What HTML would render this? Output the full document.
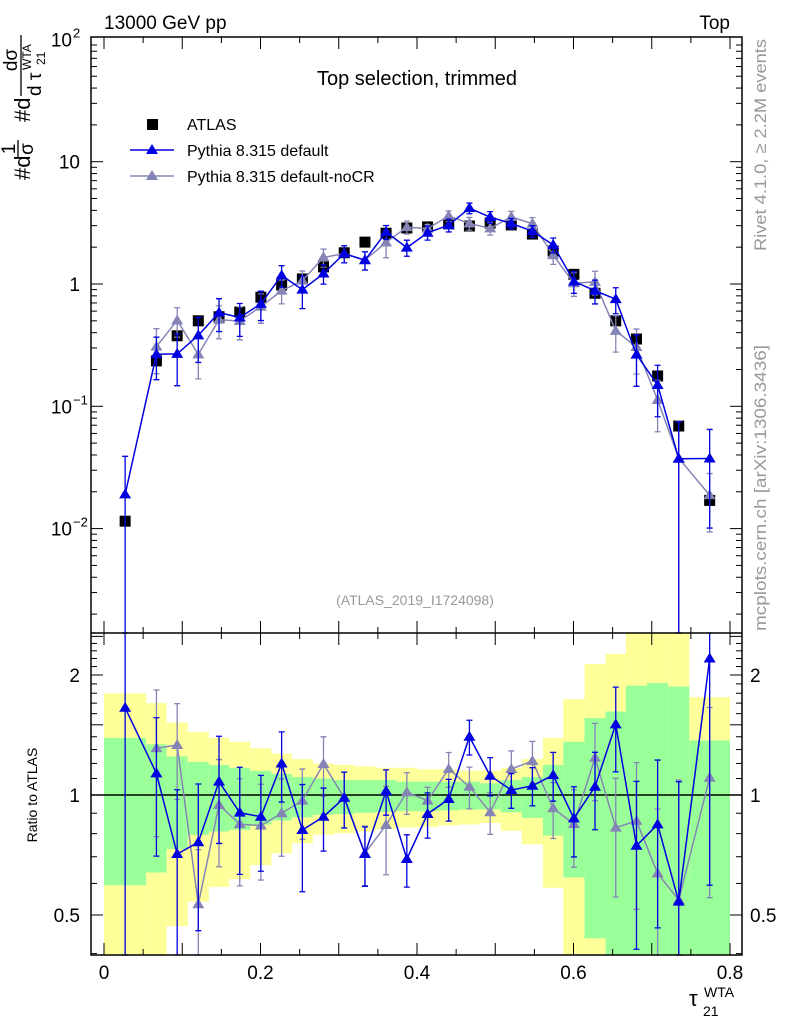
<!DOCTYPE html>
<html><head><meta charset="utf-8"><style>
html,body{margin:0;padding:0;background:#fff;}
svg{display:block;font-family:"Liberation Sans",sans-serif;}
</style></head><body>
<svg id="chart" width="786" height="1024" viewBox="0 0 786 1024" xmlns="http://www.w3.org/2000/svg">
<g id="bands"></g>
<g id="marks"></g>
<g id="axes"></g>
<text x="104" y="29" font-size="19">13000 GeV pp</text>
<text x="730" y="29" font-size="19" text-anchor="end">Top</text>
<text x="417" y="85" font-size="20" text-anchor="middle">Top selection, trimmed</text>
<text x="415" y="605" font-size="14" fill="#999" text-anchor="middle">(ATLAS_2019_I1724098)</text>
<g>
 <rect x="147" y="119" width="11" height="11" fill="#000"/>
 <text x="187" y="130" font-size="16">ATLAS</text>
 <line x1="130" y1="150" x2="174" y2="150" stroke="#0000e0" stroke-width="1.5"/>
 <polygon points="152,144 158,154 146,154" fill="#0000e0"/>
 <text x="187" y="156" font-size="16">Pythia 8.315 default</text>
 <line x1="130" y1="176" x2="174" y2="176" stroke="#8585b5" stroke-width="1.5"/>
 <polygon points="152,170 158,180 146,180" fill="#8585b5"/>
 <text x="187" y="182" font-size="16">Pythia 8.315 default-noCR</text>
</g>
<text transform="translate(766,251) rotate(-90)" font-size="17" fill="#999" textLength="212" lengthAdjust="spacingAndGlyphs">Rivet 4.1.0, ≥ 2.2M events</text>
<text transform="translate(766,631) rotate(-90)" font-size="17" fill="#999" textLength="286" lengthAdjust="spacingAndGlyphs">mcplots.cern.ch [arXiv:1306.3436]</text>
<g transform="rotate(-90)">
 <text x="-180" y="30" font-size="22">#d</text>
 <text x="-149" y="15" font-size="19" text-anchor="middle">1</text>
 <line x1="-158" y1="18" x2="-140" y2="18" stroke="#000" stroke-width="1.3"/>
 <text x="-149" y="33" font-size="19" text-anchor="middle">σ</text>
 <text x="-122" y="30" font-size="22">#d</text>
 <text x="-60" y="17" font-size="19" text-anchor="middle">dσ</text>
 <line x1="-96" y1="21" x2="-35" y2="21" stroke="#000" stroke-width="1.3"/>
 <text x="-96" y="41" font-size="19">d τ</text>
 <text x="-65" y="45" font-size="12">21</text>
 <text x="-70" y="31" font-size="12">WTA</text>
</g>
<text transform="translate(37,795) rotate(-90)" font-size="14" text-anchor="middle">Ratio to ATLAS</text>
<g>
 <text x="689" y="1006" font-size="22">τ</text>
 <text x="703" y="1016" font-size="14">21</text>
 <text x="704" y="997" font-size="14">WTA</text>
</g>
</svg>
<script>
const edges=[0,0.054,0.080,0.107,0.134,0.160,0.187,0.214,0.240,0.267,0.294,0.320,0.347,0.374,0.400,0.427,0.454,0.480,0.507,0.534,0.561,0.587,0.614,0.641,0.667,0.694,0.721,0.748,0.800];
const atlas=[0.0115,0.235,0.377,0.50,0.54,0.59,0.78,0.98,1.1,1.38,1.8,2.2,2.6,2.87,2.93,3.1,2.98,3.15,3.04,2.56,1.86,1.2,0.84,0.50,0.355,0.177,0.069,0.017];
const ratioDefault=[1.655,1.133,0.711,0.761,1.08,0.903,0.882,1.20,0.817,0.882,0.984,0.711,1.023,0.691,0.896,0.977,1.40,1.118,1.029,1.055,1.122,0.874,1.049,1.504,0.746,0.844,0.540,2.20];
const errDefault=[1.05,0.38,0.45,0.4,0.3,0.3,0.27,0.2,0.3,0.18,0.16,0.17,0.13,0.15,0.13,0.12,0.1,0.11,0.1,0.11,0.14,0.2,0.22,0.24,0.45,0.45,1.0,0.73];
const ratioNoCR=[null,1.31,1.335,0.532,0.944,0.845,0.838,0.900,0.968,1.196,0.984,0.714,0.841,1.016,0.968,1.162,1.049,0.905,1.162,1.217,0.926,0.845,1.24,0.828,0.861,0.636,0.545,1.105];
const errNoCR=[0,0.4,0.27,0.37,0.3,0.3,0.27,0.22,0.2,0.17,0.16,0.17,0.25,0.12,0.08,0.1,0.12,0.12,0.11,0.12,0.16,0.22,0.22,0.33,0.4,0.45,1.0,0.5];
const yelHi=[1.80,1.70,1.52,1.44,1.39,1.36,1.31,1.27,1.23,1.20,1.19,1.18,1.17,1.17,1.16,1.16,1.15,1.15,1.17,1.23,1.39,1.74,2.13,2.26,2.6,2.6,2.6,1.76];
const yelLo=[0.3,0.3,0.469,0.540,0.588,0.615,0.667,0.714,0.757,0.794,0.802,0.810,0.821,0.829,0.831,0.839,0.843,0.851,0.813,0.752,0.585,0.3,0.3,0.3,0.3,0.3,0.3,0.609];
const grnHi=[1.39,1.34,1.25,1.21,1.19,1.17,1.15,1.13,1.11,1.10,1.09,1.09,1.09,1.08,1.08,1.08,1.08,1.07,1.09,1.11,1.19,1.36,1.56,1.62,1.88,1.91,1.87,1.37];
const grnLo=[0.594,0.639,0.732,0.794,0.810,0.818,0.843,0.863,0.879,0.892,0.896,0.902,0.907,0.911,0.911,0.915,0.919,0.920,0.905,0.876,0.791,0.621,0.437,0.3,0.3,0.3,0.3,0.3];
const mainTicks=[100,10,1,0.1,0.01];
const mainTickLabels=["10","10","1","10","10"];
const mainTickExp=["2","","","−1","−2"];
const ratioTicks=[2,1,0.5];
const ratioTickLabels=["2","1","0.5"];
const xTicks=[0,0.2,0.4,0.6,0.8];
const xTickLabels=["0","0.2","0.4","0.6","0.8"];

const NS="http://www.w3.org/2000/svg";
const L=91,R=742,T=37,M=633,B=955;
const X=v=>104+v*782.5;
const YM=v=>284-122.3*Math.log10(v);
const YR=r=>795-398.6*Math.log10(r);
const cl=(y,a,b)=>Math.max(a,Math.min(b,y));
function mk(par,tag,at){const e=document.createElementNS(NS,tag);for(const k in at)e.setAttribute(k,at[k]);par.appendChild(e);return e;}
const bands=document.getElementById('bands'),marks=document.getElementById('marks'),axes=document.getElementById('axes');
const n=atlas.length;
const ctr=i=>(edges[i]+edges[i+1])/2;

for(let i=0;i<n;i++){
 const x1=X(edges[i]),x2=X(edges[i+1]);
 const yt=cl(YR(yelHi[i]),M,B),yb=cl(YR(yelLo[i]),M,B);
 const r1=mk(bands,'rect',{x:x1,y:yt,width:x2-x1,height:yb-yt,fill:'#ffff99'});
 
 
 const gt=cl(YR(grnHi[i]),M,B),gb=cl(YR(grnLo[i]),M,B);
 const r2=mk(bands,'rect',{x:x1,y:gt,width:x2-x1,height:gb-gt,fill:'#99ff99'});
 
 
}
mk(bands,'line',{x1:L,y1:YR(1),x2:R,y2:YR(1),stroke:'#000','stroke-width':1.5});

function tri(x,y,c,nm){const p=mk(marks,'polygon',{points:`${x},${y-6} ${x+6},${y+4} ${x-6},${y+4}`,fill:c});}
function series(ratios,errs,color,nm,w){
 let pts=[],rpts=[];
 for(let i=0;i<n;i++){
  if(ratios[i]==null)continue;
  const x=X(ctr(i)),v=atlas[i]*ratios[i],e=errs[i];
  const y=YM(v);pts.push(x+','+y);
  const yu=cl(YM(v*(1+e)),T,M),yd=(1-e)>0?cl(YM(v*(1-e)),T,M):M;
  const eb=mk(marks,'path',{d:`M${x},${yu}V${yd}M${x-3},${yu}H${x+3}M${x-3},${yd}H${x+3}`,stroke:color,'stroke-width':1.3,fill:'none'});
  
  
  const r=ratios[i],yr=YR(r);rpts.push(x+','+cl(yr,M,B));
  const ru=cl(YR(r*(1+e)),M,B),rd=(1-e)>0?cl(YR(r*(1-e)),M,B):B;
  const eb2=mk(marks,'path',{d:`M${x},${ru}V${rd}M${x-3},${ru}H${x+3}M${x-3},${rd}H${x+3}`,stroke:color,'stroke-width':1.3,fill:'none'});
  
  
 }
 const ln=mk(marks,'polyline',{points:pts.join(' '),stroke:color,'stroke-width':w,fill:'none'});
 
 
 const ln2=mk(marks,'polyline',{points:rpts.join(' '),stroke:color,'stroke-width':w,fill:'none'});
 
 
 for(let i=0;i<n;i++){
  if(ratios[i]==null)continue;
  const x=X(ctr(i));
  tri(x,YM(atlas[i]*ratios[i]),color,nm+'-marker');
  const yr=YR(ratios[i]);if(yr>=M&&yr<=B)tri(x,yr,color,nm+'-ratio-marker');
 }
}
for(let i=0;i<n;i++){
 const x=X(ctr(i)),y=YM(atlas[i]);
 const s=mk(marks,'rect',{x:x-5.5,y:y-5.5,width:11,height:11,fill:'#000'});
 
 
}
series(ratioNoCR,errNoCR,'#8585b5','pythia-nocr',1.5);
series(ratioDefault,errDefault,'#0000e0','pythia-default',1.5);

mk(axes,'rect',{x:L,y:T,width:R-L,height:B-T,fill:'none',stroke:'#000','stroke-width':1.5});
mk(axes,'line',{x1:L,y1:M,x2:R,y2:M,stroke:'#000','stroke-width':1.5});
for(let d=-3;d<2;d++){for(let k=1;k<10;k++){
 const v=k*Math.pow(10,d),y=YM(v);if(y<T||y>M)continue;
 const len=k==1?12:6;
 mk(axes,'line',{x1:L,y1:y,x2:L+len,y2:y,stroke:'#000'});
 mk(axes,'line',{x1:R,y1:y,x2:R-len,y2:y,stroke:'#000'});
}}
mainTicks.forEach((v,i)=>{
 const t=mk(axes,'text',{x:mainTickExp[i]?72:80,y:YM(v)+7,'font-size':19,'text-anchor':'end'});
 t.textContent=mainTickLabels[i];
 
 
 if(mainTickExp[i]){const s=mk(axes,'text',{x:73,y:YM(v)-2,'font-size':13});s.textContent=mainTickExp[i];}
});
for(let k=3;k<=25;k++){const r=k/10;const y=YR(r);if(y<M||y>B)continue;
 const len=(k%5==0)?12:6;
 mk(axes,'line',{x1:L,y1:y,x2:L+len,y2:y,stroke:'#000'});
 mk(axes,'line',{x1:R,y1:y,x2:R-len,y2:y,stroke:'#000'});
}
ratioTicks.forEach((r,i)=>{
 const t=mk(axes,'text',{x:80,y:YR(r)+7,'font-size':19,'text-anchor':'end'});t.textContent=ratioTickLabels[i];
 
 
 const t2=mk(axes,'text',{x:750,y:YR(r)+7,'font-size':19});t2.textContent=ratioTickLabels[i];
 
 
});
for(let k=0;k<=16;k++){const v=k*0.05,x=X(v);const len=(k%2==0)?12:6;
 [[B,-1],[M,-1],[M,1],[T,1]].forEach(([y0,s])=>mk(axes,'line',{x1:x,y1:y0,x2:x,y2:y0+s*len,stroke:'#000'}));
}
xTicks.forEach((v,i)=>{const t=mk(axes,'text',{x:X(v),y:979,'font-size':19,'text-anchor':'middle'});t.textContent=xTickLabels[i];
 
 
});
</script>
</body></html>
